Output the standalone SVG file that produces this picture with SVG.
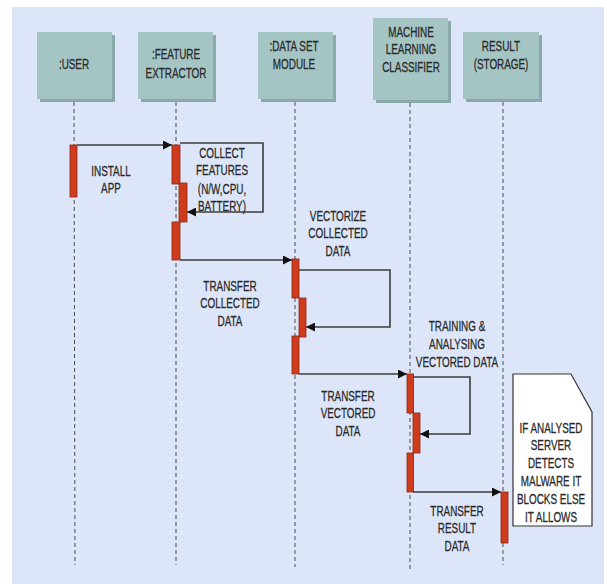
<svg xmlns="http://www.w3.org/2000/svg" width="607" height="584" viewBox="0 0 607 584">
<defs>
<style>
.bg{fill:#dde6f9}
.box{fill:#a5c5c5}
.shadow{fill:#8aa9aa}
.life{stroke:#4a4a4a;stroke-width:1;stroke-dasharray:4 3;fill:none}
.bar{fill:#cf3b1d;stroke:#8a2612;stroke-width:0.8}
.msg{stroke:#3c3c3c;stroke-width:1.6;fill:none}
.t{font-family:"Liberation Sans",Arial,sans-serif;font-size:15px;fill:#2a2a2a;stroke:#2a2a2a;stroke-width:0.3;text-anchor:middle}
.note{fill:#ffffff;stroke:#333;stroke-width:1.2}
</style>
<marker id="ah" viewBox="0 0 10 10" refX="10" refY="5" markerWidth="9" markerHeight="9" markerUnits="userSpaceOnUse" orient="auto">
<path d="M0,0 L10,5 L0,10 Z" fill="#111"/>
</marker>
</defs>
<rect class="bg" x="12" y="7" width="592" height="577"/>

<g id="user">
<rect class="shadow" x="40" y="35" width="75" height="67"/>
<rect class="box" x="37" y="32" width="75" height="67"/>
<text class="t" transform="translate(74,68.5) scale(0.66,1)">:USER</text>
</g>
<g id="feature-extractor">
<rect class="shadow" x="141" y="35" width="75" height="67"/>
<rect class="box" x="138" y="32" width="75" height="67"/>
<text class="t" transform="translate(176,58.5) scale(0.66,1)">:FEATURE</text>
<text class="t" transform="translate(176,78) scale(0.66,1)">EXTRACTOR</text>
</g>
<g id="data-set-module">
<rect class="shadow" x="261" y="35" width="75" height="67"/>
<rect class="box" x="258" y="32" width="75" height="67"/>
<text class="t" transform="translate(294,50.5) scale(0.66,1)">:DATA SET</text>
<text class="t" transform="translate(294,68.5) scale(0.66,1)">MODULE</text>
</g>
<g id="ml-classifier">
<rect class="shadow" x="376" y="21" width="75" height="82"/>
<rect class="box" x="373" y="18" width="75" height="82"/>
<text class="t" transform="translate(411,37) scale(0.66,1)">MACHINE</text>
<text class="t" transform="translate(411,54) scale(0.66,1)">LEARNING</text>
<text class="t" transform="translate(411,72) scale(0.66,1)">CLASSIFIER</text>
</g>
<g id="result-storage">
<rect class="shadow" x="466" y="35" width="76" height="67"/>
<rect class="box" x="463" y="32" width="76" height="67"/>
<text class="t" transform="translate(501,50.5) scale(0.66,1)">RESULT</text>
<text class="t" transform="translate(501,68.5) scale(0.66,1)">(STORAGE)</text>
</g>

<g id="lifelines">
<line class="life" x1="74" y1="102" x2="75" y2="565"/>
<line class="life" x1="176" y1="102" x2="176" y2="565"/>
<line class="life" x1="295" y1="102" x2="295" y2="567"/>
<line class="life" x1="410" y1="103" x2="410" y2="570"/>
<line class="life" x1="503" y1="102" x2="503" y2="565"/>
</g>

<g id="connectors">
<line class="msg" x1="77" y1="145" x2="172" y2="145" marker-end="url(#ah)"/>
<path class="msg" d="M180,143 H263 V212 H187" marker-end="url(#ah)"/>
<line class="msg" x1="180" y1="260" x2="292" y2="260" marker-end="url(#ah)"/>
<path class="msg" d="M299,270 H390 V327 H306" marker-end="url(#ah)"/>
<line class="msg" x1="299" y1="374" x2="407" y2="374" marker-end="url(#ah)"/>
<path class="msg" d="M413,377 H470 V434 H420" marker-end="url(#ah)"/>
<line class="msg" x1="413" y1="492" x2="501" y2="492" marker-end="url(#ah)"/>
</g>

<g id="activations">
<rect class="bar" x="70" y="145" width="7" height="52"/>
<rect class="bar" x="172" y="145" width="8" height="39"/>
<rect class="bar" x="179" y="183" width="8" height="39"/>
<rect class="bar" x="172" y="222" width="8" height="38"/>
<rect class="bar" x="292" y="259" width="7" height="39"/>
<rect class="bar" x="299" y="298" width="7" height="39"/>
<rect class="bar" x="292" y="336" width="7" height="38"/>
<rect class="bar" x="407" y="374" width="6.5" height="39"/>
<rect class="bar" x="413" y="413" width="7" height="40"/>
<rect class="bar" x="407" y="453" width="6.5" height="39"/>
<rect class="bar" x="501" y="492" width="7" height="51"/>
</g>

<g id="labels">
<text class="t" transform="translate(111,175.5) scale(0.66,1)">INSTALL</text>
<text class="t" transform="translate(111,192.5) scale(0.66,1)">APP</text>
<text class="t" transform="translate(222,157.5) scale(0.66,1)">COLLECT</text>
<text class="t" transform="translate(222,175) scale(0.66,1)">FEATURES</text>
<text class="t" transform="translate(222,193.5) scale(0.66,1)">(N/W,CPU,</text>
<text class="t" transform="translate(222,210.5) scale(0.66,1)">BATTERY)</text>
<text class="t" transform="translate(230,290.5) scale(0.66,1)">TRANSFER</text>
<text class="t" transform="translate(230,308) scale(0.66,1)">COLLECTED</text>
<text class="t" transform="translate(230,325.5) scale(0.66,1)">DATA</text>
<text class="t" transform="translate(338,220.5) scale(0.66,1)">VECTORIZE</text>
<text class="t" transform="translate(338,238) scale(0.66,1)">COLLECTED</text>
<text class="t" transform="translate(338,255.5) scale(0.66,1)">DATA</text>
<text class="t" transform="translate(348,400.5) scale(0.66,1)">TRANSFER</text>
<text class="t" transform="translate(348,418) scale(0.66,1)">VECTORED</text>
<text class="t" transform="translate(348,435.5) scale(0.66,1)">DATA</text>
<text class="t" transform="translate(457,330.5) scale(0.66,1)">TRAINING &amp;</text>
<text class="t" transform="translate(457,348.5) scale(0.66,1)">ANALYSING</text>
<text class="t" transform="translate(457,366.5) scale(0.66,1)">VECTORED DATA</text>
<text class="t" transform="translate(457,515.5) scale(0.66,1)">TRANSFER</text>
<text class="t" transform="translate(457,533) scale(0.66,1)">RESULT</text>
<text class="t" transform="translate(457,550.5) scale(0.66,1)">DATA</text>
</g>

<g id="note">
<path class="note" d="M513,374 H571 L592,412 V526 H513 Z"/>
<text class="t" transform="translate(551,432.5) scale(0.66,1)">IF ANALYSED</text>
<text class="t" transform="translate(551,450) scale(0.66,1)">SERVER</text>
<text class="t" transform="translate(551,468) scale(0.66,1)">DETECTS</text>
<text class="t" transform="translate(551,485.5) scale(0.66,1)">MALWARE IT</text>
<text class="t" transform="translate(551,503.5) scale(0.66,1)">BLOCKS ELSE</text>
<text class="t" transform="translate(551,521.5) scale(0.66,1)">IT ALLOWS</text>
</g>
</svg>
